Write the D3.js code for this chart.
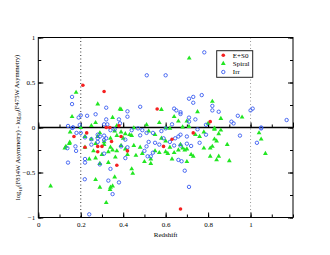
<!DOCTYPE html>
<html>
<head>
<meta charset="utf-8">
<script src="https://cdn.jsdelivr.net/npm/d3@7"></script>
<style>
  body { margin: 0; background: #fff; }
  svg text { font-family: "Liberation Serif", "DejaVu Serif", serif; }
</style>
</head>
<body>
<div id="chart"></div>
<script>
    // redshift vs colour-asymmetry difference, by morphology
    var seriesNames = ["E+S0", "Spiral", "Irr"];
    var xTickLabels = [0, 0.2, 0.4, 0.6, 0.8, 1];
    var yTickLabels = [-1, -0.5, 0, 0.5, 1];
    var refLines = [0.2, 1];

    var e0Pts = [
        [0.21, 0.47], [0.31, 0.40], [0.56, 0.205], [0.38, 0.02], [0.32, 0.0], [0.337, 0.0],
        [0.81, 0.065], [0.168, -0.10], [0.228, -0.06], [0.22, -0.22], [0.28, -0.21], [0.30, -0.21],
        [0.28, -0.27], [0.345, -0.155], [0.37, -0.42], [0.39, -0.10], [0.42, -0.26], [0.59, -0.21],
        [0.63, -0.13], [0.73, -0.06], [0.67, -0.905]
    ];

    var spiralPts = [
        [0.178, 0.39], [0.711, 0.77], [0.28, 0.26], [0.39, 0.20], [0.385, 0.205], [0.58, 0.20],
        [0.75, 0.175], [0.82, 0.29], [0.96, 0.115], [0.86, 0.10], [0.159, 0.12], [0.35, 0.11],
        [0.64, 0.12], [0.27, 0.053], [0.57, 0.053], [0.51, 0.03], [0.66, 0.07], [0.70, 0.07],
        [0.80, 0.045], [0.25, 0.02], [0.37, 0.02], [0.2, 0.0], [0.45, -0.005], [0.6, -0.005],
        [0.68, 0.005], [0.71, 0.01], [0.83, -0.01], [0.86, -0.03], [0.62, -0.01],
        [0.13, -0.21], [0.146, -0.18], [0.148, -0.165], [0.125, -0.23], [0.22, -0.22], [0.24, -0.35],
        [0.27, -0.34], [0.27, -0.58], [0.29, -0.40], [0.33, -0.39], [0.363, -0.33], [0.36, -0.55],
        [0.338, -0.69], [0.34, -0.665], [0.35, -0.65], [0.29, -0.665], [0.32, -0.835], [0.058, -0.65],
        [0.29, -0.06], [0.28, -0.10], [0.31, -0.16], [0.31, -0.19], [0.34, -0.22], [0.35, -0.25],
        [0.33, -0.27], [0.37, -0.26], [0.37, -0.09], [0.39, -0.05], [0.41, -0.07], [0.43, -0.08],
        [0.44, -0.09], [0.40, -0.12], [0.39, -0.2], [0.41, -0.24], [0.45, -0.2], [0.48, -0.22],
        [0.46, -0.31], [0.49, -0.29], [0.50, -0.38], [0.53, -0.35], [0.53, -0.40], [0.44, -0.46],
        [0.445, -0.51], [0.42, -0.3], [0.55, -0.26], [0.57, -0.28], [0.60, -0.27], [0.61, -0.29],
        [0.63, -0.35], [0.66, -0.25], [0.68, -0.23], [0.70, -0.38], [0.67, -0.19], [0.70, -0.24],
        [0.69, -0.25], [0.72, -0.30], [0.73, -0.32], [0.78, -0.23], [0.81, -0.23], [0.82, -0.21],
        [0.83, -0.13], [0.84, -0.15], [0.85, -0.07], [0.83, -0.02], [0.89, -0.19], [0.81, -0.32],
        [0.85, -0.32], [0.84, -0.36], [0.90, -0.37], [1.04, -0.06], [1.05, -0.13], [1.07, -0.29],
        [0.74, -0.08], [0.76, -0.1], [0.78, -0.05], [0.52, -0.04], [0.55, -0.08], [0.58, -0.12],
        [0.6, -0.15], [0.64, -0.28], [0.62, -0.22], [0.15, -0.05], [0.22, -0.1], [0.25, -0.13],
        [0.27, -0.18], [0.26, -0.26], [0.3, -0.3], [0.34, -0.12], [0.36, -0.04]
    ];

    var irrPts = [
        [0.782, 0.835], [0.511, 0.58], [0.60, 0.58], [0.159, 0.34], [0.159, 0.26], [0.32, 0.22],
        [0.42, 0.18], [0.48, 0.23], [0.42, 0.12], [0.27, 0.147], [0.23, 0.13], [0.2, 0.135],
        [0.19, 0.11], [0.32, 0.09], [0.38, 0.09], [0.31, 0.035], [0.325, 0.035], [0.195, 0.028],
        [0.14, 0.017], [0.164, 0.002], [0.385, 0.047], [0.64, 0.21], [0.65, 0.19], [0.67, 0.17],
        [0.67, 0.15], [0.71, 0.32], [0.73, 0.34], [0.73, 0.275], [0.77, 0.36], [0.71, 0.11],
        [0.71, 0.065], [0.74, 0.09], [0.63, 0.035], [0.82, 0.24], [0.82, 0.19], [0.85, 0.175],
        [0.94, 0.13], [0.91, 0.065], [0.92, 0.045], [1.0, 0.19], [1.01, 0.21], [1.17, 0.083],
        [1.05, 0.0], [0.79, 0.03],
        [0.16, -0.005], [0.18, -0.06], [0.2, -0.06], [0.22, -0.11], [0.25, -0.13], [0.137, -0.23],
        [0.175, -0.21], [0.178, -0.26], [0.14, -0.39], [0.22, -0.35], [0.22, -0.39], [0.29, -0.41],
        [0.34, -0.46], [0.219, -0.575], [0.33, -0.59], [0.38, -0.61], [0.35, -0.74], [0.24, -0.965],
        [0.71, -0.66], [0.69, -0.48], [0.28, -0.08], [0.29, -0.1], [0.31, -0.09], [0.32, -0.12],
        [0.25, -0.19], [0.28, -0.16], [0.28, -0.12], [0.31, -0.14], [0.31, -0.29], [0.39, -0.21],
        [0.41, -0.135], [0.42, -0.22], [0.41, -0.34], [0.44, -0.03], [0.47, -0.01], [0.48, -0.087],
        [0.51, -0.06], [0.54, -0.06], [0.58, -0.04], [0.6, -0.01], [0.59, -0.12], [0.62, -0.16],
        [0.645, -0.12], [0.67, -0.08], [0.52, -0.16], [0.55, -0.17], [0.57, -0.19], [0.50, -0.26],
        [0.54, -0.28], [0.53, -0.32], [0.51, -0.21], [0.515, -0.32], [0.64, -0.2], [0.67, -0.2],
        [0.70, -0.18], [0.66, -0.1], [0.70, -0.10], [0.66, -0.36], [0.675, -0.375], [0.75, -0.02],
        [0.76, -0.17], [0.79, -0.08], [0.72, -0.205], [0.95, -0.09], [1.03, -0.17], [1.05, -0.01],
        [0.49, -0.03], [0.36, -0.02], [0.34, -0.03]
    ];

    var width = 330,
        height = 255,
        margin = {top: 37.5, right: 37, bottom: 37.5, left: 38.3};

    var svg = d3.select("#chart").append("svg")
        .attr("width", width)
        .attr("height", height);

    var x = d3.scaleLinear().domain([0, 1.2]).range([margin.left, width - margin.right]),
        y = d3.scaleLinear().domain([-1, 1]).range([height - margin.bottom, margin.top]);

    var minorX = d3.range(0, 1.21, 0.1).map(function (d) { return +d.toFixed(1); }),
        minorY = d3.range(-1, 1.01, 0.25);

    var g = svg.append("g");

    // reference dotted lines
    g.selectAll(".ref")
        .data(refLines)
        .enter().append("line")
        .attr("class", "ref")
        .attr("x1", function (d) { return x(d); })
        .attr("x2", function (d) { return x(d); })
        .attr("y1", y(1))
        .attr("y2", y(-1))
        .attr("stroke", function (d, i) { return i === 0 ? "#333" : "#999"; })
        .attr("stroke-width", 1)
        .attr("stroke-dasharray", "1,2.5");

    function styleAxis(sel) {
        sel.select(".domain").remove();
        sel.selectAll("line").attr("stroke", "#000");
        sel.selectAll("text")
            .attr("fill", "#000")
            .style("font-size", "7px");
    }

    // minor ticks (no labels)
    function minor(axisFn, scale, vals, size, tx, ty) {
        g.append("g")
            .attr("transform", "translate(" + tx + "," + ty + ")")
            .call(axisFn(scale).tickValues(vals).tickSize(size).tickFormat(""))
            .call(styleAxis);
    }

    minor(d3.axisBottom, x, minorX, -3, 0, y(-1));
    minor(d3.axisTop, x, minorX, 3, 0, y(0));
    minor(d3.axisLeft, y, minorY, -3, x(0), 0);
    minor(d3.axisRight, y, minorY, -3, x(1.2), 0);

    // major ticks with labels
    g.append("g")
        .attr("transform", "translate(0," + y(-1) + ")")
        .call(d3.axisBottom(x).tickValues(xTickLabels).tickSize(-5).tickPadding(5).tickFormat(d3.format("")))
        .call(styleAxis);

    g.append("g")
        .attr("transform", "translate(0," + y(0) + ")")
        .call(d3.axisTop(x).tickValues(xTickLabels.concat([1.2])).tickSize(5).tickFormat(""))
        .call(styleAxis);

    g.append("g")
        .attr("transform", "translate(" + x(0) + ",0)")
        .call(d3.axisLeft(y).tickValues(yTickLabels).tickSize(-5).tickPadding(3).tickFormat(d3.format("")))
        .call(styleAxis);

    g.append("g")
        .attr("transform", "translate(" + x(1.2) + ",0)")
        .call(d3.axisRight(y).tickValues(yTickLabels).tickSize(-5).tickFormat(""))
        .call(styleAxis);

    // frame and zero line
    g.append("rect")
        .attr("x", x(0))
        .attr("y", y(1))
        .attr("width", x(1.2) - x(0))
        .attr("height", y(-1) - y(1))
        .attr("fill", "none")
        .attr("stroke", "#000")
        .attr("stroke-width", 1);

    g.append("line")
        .attr("x1", x(0))
        .attr("x2", x(1.2))
        .attr("y1", y(0))
        .attr("y2", y(0))
        .attr("stroke", "#000")
        .attr("stroke-width", 1.3);

    // points
    var tri = d3.symbol().type(d3.symbolTriangle).size(10);

    g.append("g").selectAll("path")
        .data(spiralPts)
        .enter().append("path")
        .attr("d", tri)
        .attr("transform", function (d) { return "translate(" + x(d[0]) + "," + y(d[1]) + ")"; })
        .attr("fill", "#22e622");

    g.append("g").selectAll("circle")
        .data(irrPts)
        .enter().append("circle")
        .attr("cx", function (d) { return x(d[0]); })
        .attr("cy", function (d) { return y(d[1]); })
        .attr("r", 1.7)
        .attr("fill", "none")
        .attr("stroke", "#3a5cf0")
        .attr("stroke-width", 0.9);

    g.append("g").selectAll("circle")
        .data(e0Pts)
        .enter().append("circle")
        .attr("cx", function (d) { return x(d[0]); })
        .attr("cy", function (d) { return y(d[1]); })
        .attr("r", 1.8)
        .attr("fill", "#f52020");

    // legend
    var leg = svg.append("g").attr("transform", "translate(216.7,50.7)");
    leg.append("rect")
        .attr("width", 36)
        .attr("height", 26.6)
        .attr("fill", "#fff")
        .attr("stroke", "#222")
        .attr("stroke-width", 1);

    var rows = leg.selectAll(".row")
        .data(seriesNames)
        .enter().append("g")
        .attr("class", "row")
        .attr("transform", function (d, i) { return "translate(6.6," + (4.5 + i * 8.4) + ")"; });

    rows.each(function (d, i) {
        var r = d3.select(this);
        if (i === 0) {
            r.append("circle").attr("r", 1.8).attr("fill", "#f52020");
        } else if (i === 1) {
            r.append("path").attr("d", tri).attr("fill", "#22e622");
        } else {
            r.append("circle").attr("r", 1.7).attr("fill", "none")
                .attr("stroke", "#3a5cf0").attr("stroke-width", 0.9);
        }
    });

    rows.append("text")
        .attr("x", 9.5)
        .attr("dy", "0.33em")
        .style("font-size", "7px")
        .text(function (d) { return d; });

    // axis titles
    svg.append("text")
        .attr("x", (x(0) + x(1.2)) / 2)
        .attr("y", 236.5)
        .attr("text-anchor", "middle")
        .style("font-size", "7px")
        .text("Redshift");

    var yl = svg.append("text")
        .attr("transform", "translate(20," + y(0) + ") rotate(-90)")
        .attr("text-anchor", "middle")
        .style("font-size", "6.6px");
    yl.append("tspan").text("log");
    yl.append("tspan").attr("dy", "0.3em").style("font-size", "5px").text("10");
    yl.append("tspan").attr("dy", "-0.3em").text("(F814W Asymmetry) - log");
    yl.append("tspan").attr("dy", "0.3em").style("font-size", "5px").text("10");
    yl.append("tspan").attr("dy", "-0.3em").text("(F475W Asymmetry)");
</script>
</body>
</html>
